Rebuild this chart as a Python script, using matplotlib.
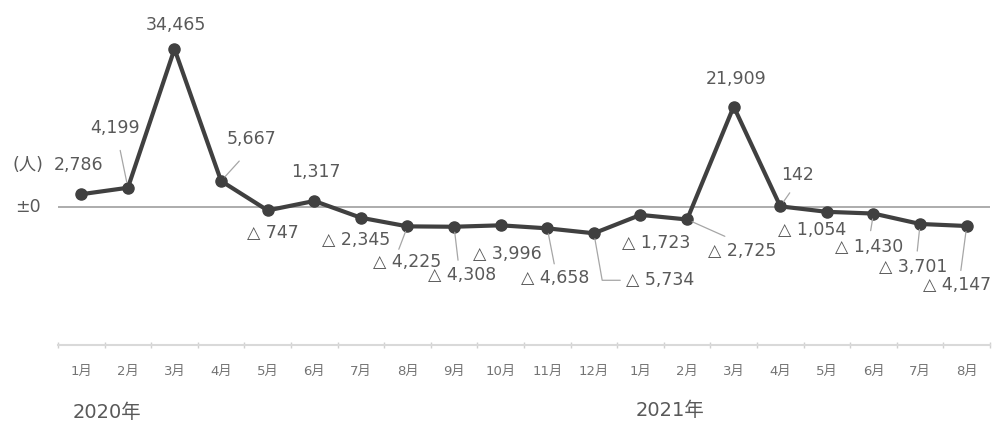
import matplotlib
matplotlib.use("Agg")
import matplotlib.pyplot as plt
from matplotlib.transforms import blended_transform_factory

# Month-over-month change in population (persons), Jan 2020 - Aug 2021
months = ["1月", "2月", "3月", "4月", "5月", "6月", "7月", "8月", "9月", "10月",
          "11月", "12月", "1月", "2月", "3月", "4月", "5月", "6月", "7月", "8月"]
changes = [2786, 4199, 34465, 5667, -747, 1317, -2345, -4225, -4308, -3996,
           -4658, -5734, -1723, -2725, 21909, 142, -1054, -1430, -3701, -4147]
years = ["2020年", "2021年"]
unit_label = "(人)"
zero_label = "±0"


def fmt(v):
    return f"{v:,}" if v >= 0 else f"△ {abs(v):,}"


# Label placement: offset from the marker in pixels, plus leader-line settings
# (None = no leader; otherwise (relpos, shrinkA, connectionstyle))
label_offsets = [(-3, 29), (-13, 60), (1, 24), (30, 42), (5, -23),
                 (2, 29), (-5, -22), (0, -36), (8, -48), (7, -29),
                 (8, -50), (66, -47), (16, -28), (55, -32), (2, 28),
                 (17, 31), (-15, -18), (-4, -33), (-7, -43), (-10, -59)]
leaders = [None, ((0.55, 0), 8, "arc3"), None, ((0.5, 0), 10, "arc3"), None,
           None, None, ((0.35, 1), 1, "arc3"), ((0.45, 1), 2, "arc3"), None,
           ((0.5, 1), 2, "arc3"), ((0, 0.5), 2, "angle,angleA=0,angleB=100,rad=0"),
           None, ((0.45, 1), 6, "arc3"), None,
           ((0.45, 0), 5, "arc3"), None, ((0.5, 1), 3, "arc3"),
           ((0.55, 1), 3, "arc3"), ((0.55, 1), 2, "arc3")]

TEXT = "#595959"
LINE = "#404040"
FONTS = ["DejaVu Sans", "Noto Sans CJK JP"]
plt.rcParams["font.family"] = FONTS

W, H = 995, 425
fig = plt.figure(figsize=(W / 100, H / 100), dpi=100)
ax = fig.add_axes([58 / W, (H - 345) / H, 932 / W, 335 / H])

x = list(range(len(changes)))
ax.axhline(0, color="#a6a6a6", lw=1.3, zorder=1)
ax.plot(x, changes, color=LINE, lw=3, marker="o", markersize=8,
        markerfacecolor=LINE, markeredgecolor=LINE, zorder=3)

ax.set_xlim(-0.5, len(changes) - 0.5)
ax.set_ylim(-30100, 42966)

for i, v in enumerate(changes):
    dx, dy = label_offsets[i]
    kw = {}
    if leaders[i] is not None:
        relpos, shA, conn = leaders[i]
        kw["arrowprops"] = dict(arrowstyle="-", color="#a6a6a6", lw=0.9,
                                relpos=relpos, shrinkA=shA, shrinkB=4,
                                connectionstyle=conn)
    ax.annotate(fmt(v), xy=(i, v), xytext=(dx, dy), textcoords="offset pixels",
                ha="center", va="center", fontsize=12.5, color=TEXT,
                zorder=4, **kw)

# Category axis along the bottom
for s in ["top", "left", "right"]:
    ax.spines[s].set_visible(False)
ax.spines["bottom"].set_color("#d9d9d9")
ax.spines["bottom"].set_linewidth(1.5)
ax.set_yticks([])
ax.set_xticks(x)
ax.set_xticklabels(months, fontsize=9.5, color="#737373")
ax.tick_params(axis="x", which="major", length=0, pad=14)
ax.set_xticks([k - 0.5 for k in range(len(changes) + 1)], minor=True)
ax.tick_params(axis="x", which="minor", length=4, color="#d0d0d0", width=1,
               direction="inout")

# Unit label, zero label and year captions
ytr = blended_transform_factory(fig.transFigure, ax.transData)
ax.text(28 / W, 9200, unit_label, transform=ytr, ha="center", va="center",
        fontsize=12.5, color=TEXT)
ax.text(28 / W, 0, zero_label, transform=ytr, ha="center", va="center",
        fontsize=12.5, color=TEXT)
fig.text(107 / W, 1 - 413 / H, years[0], ha="center", va="center",
         fontsize=14, color=TEXT)
fig.text(670 / W, 1 - 410 / H, years[1], ha="center", va="center",
         fontsize=14, color=TEXT)

fig.savefig("out.png", dpi=100, facecolor="white")
